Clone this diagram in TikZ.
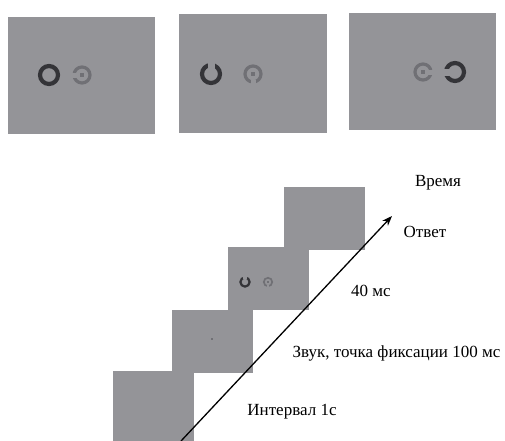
\documentclass[tikz,border=0pt]{standalone}
\usepackage{fontspec}
\setmainfont{Liberation Serif}
\usetikzlibrary{arrows.meta}
\definecolor{panel}{RGB}{148,148,152}
\definecolor{darkring}{RGB}{52,52,56}
\definecolor{lightring}{RGB}{112,112,117}
\tikzset{
  panelbox/.style={fill=panel, draw=none, inner sep=0pt, outer sep=0pt, anchor=north west},
  bigpanel/.style={panelbox, minimum width=147pt, minimum height=117pt},
  stepbox/.style={panelbox, minimum width=81pt, minimum height=63pt},
  lbl/.style={font=\fontsize{17}{20}\selectfont, inner sep=0pt},
  darkarc/.style={draw=darkring, line width=4.2pt},
  lightarc/.style={draw=lightring, line width=3.2pt},
  darkarcs/.style={draw=darkring, line width=2.2pt},
  lightarcs/.style={draw=lightring, line width=1.7pt},
  gapcut/.style={fill=panel, draw=none},
}
\begin{document}
\begin{tikzpicture}[x=1pt,y=-1pt]
\useasboundingbox (0,0) rectangle (505,440);
% top panels
\node[bigpanel] (p1) at (8,17) {};
\node[bigpanel, minimum width=148pt, minimum height=119pt] (p2) at (179,14) {};
\node[bigpanel] (p3) at (349,13) {};
% panel 1 rings
\draw[darkarc] (49,75) circle[radius=9pt];
\draw[lightarc] (82,75) circle[radius=8pt];
\fill[gapcut] (71,72.5) rectangle (77.5,77.5);
\fill[lightring] (80.4,73.4) rectangle (83.6,76.6);
% panel 2 rings
\draw[darkarc] (211,74) circle[radius=9pt];
\fill[gapcut] (207.5,61) rectangle (214.5,68.5);
\draw[lightarc] (253,74) circle[radius=8pt];
\fill[gapcut] (250.5,79.5) rectangle (255.5,86);
\fill[lightring] (251.4,72.4) rectangle (254.6,75.6);
% panel 3 rings
\draw[lightarc] (423,72) circle[radius=8pt];
\fill[gapcut] (427.5,69.5) rectangle (435,74.5);
\fill[lightring] (421.4,70.4) rectangle (424.6,73.6);
\draw[darkarc] (455,72) circle[radius=9pt];
\fill[gapcut] (443,68.5) rectangle (449.5,75.5);
% staircase
\node[stepbox, minimum height=70pt] (s1) at (113,371) {};
\node[stepbox] (s2) at (172,310) {};
\node[stepbox] (s3) at (228,247) {};
\node[stepbox] (s4) at (284,187) {};
\fill[lightring] (211,338) rectangle (213,340);
\draw[darkarcs] (245,282) circle[radius=4.6pt];
\fill[gapcut] (243.3,275.8) rectangle (246.7,279.2);
\draw[lightarcs] (268,282) circle[radius=4.2pt];
\fill[gapcut] (266.9,285) rectangle (269.1,287.6);
\fill[lightring] (267.1,281.1) rectangle (268.9,282.9);
% arrow
\coordinate (a0) at (181,441);
\coordinate (a1) at (392,216);
\draw[line width=1.3pt, -{Stealth[length=10pt,width=7.5pt]}] (a0) -- (a1);
% labels
\node[lbl] (t1) at (438,183) {Время};
\node[lbl] (t2) at (425,232) {Ответ};
\node[lbl] (t3) at (371,291) {40 мс};
\node[lbl] (t4) at (396.5,353) {Звук, точка фиксации 100 мс};
\node[lbl] (t5) at (292,412) {Интервал 1с};
\end{tikzpicture}
\end{document}
